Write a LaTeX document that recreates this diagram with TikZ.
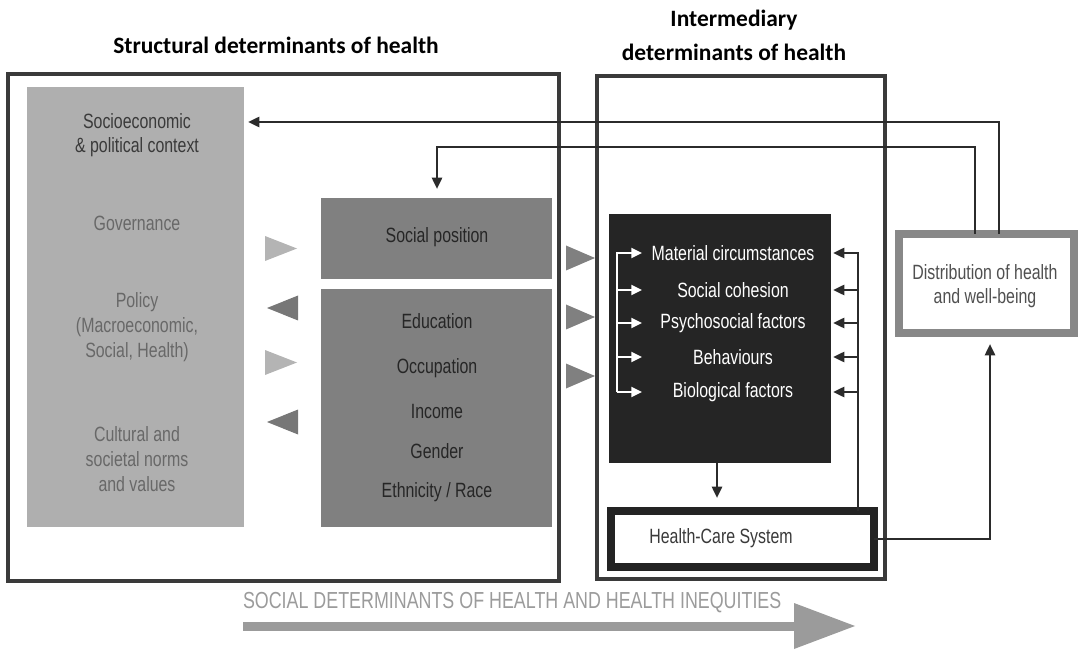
\documentclass[tikz,border=0pt]{standalone}
\usepackage{fontspec}
\setmainfont{Liberation Sans}
\newfontfamily\condfont[FakeStretch=0.77]{Liberation Sans}
\newfontfamily\headfont{Carlito}
\usetikzlibrary{arrows.meta,fit}

\definecolor{framegray}{HTML}{3A3A3A}
\definecolor{ctxgray}{HTML}{AFAFAF}
\definecolor{posgray}{HTML}{808080}
\definecolor{darkbox}{HTML}{252525}
\definecolor{linegray}{HTML}{2B2B2B}
\definecolor{hcsborder}{HTML}{232323}
\definecolor{distborder}{HTML}{888888}
\definecolor{lighttri}{HTML}{B4B4B4}
\definecolor{darktri}{HTML}{777777}
\definecolor{midtri}{HTML}{808080}
\definecolor{bandgray}{HTML}{9B9B9B}
\definecolor{txtdark}{HTML}{262626}
\definecolor{txtmid}{HTML}{3A3A3A}
\definecolor{txtsoft}{HTML}{686868}
\definecolor{txtdist}{HTML}{505050}

\begin{document}
\begin{tikzpicture}[x=0.75pt,y=-0.75pt,
  every node/.style={inner sep=0pt,outer sep=0pt},
  frame/.style={draw=framegray,line width=3pt},
  head/.style={font=\headfont\bfseries\fontsize{17.6pt}{25.5pt}\selectfont,align=center,text=black},
  txt/.style={font=\condfont\fontsize{15.5pt}{18.5pt}\selectfont,align=center},
  item/.style={txt,text=white},
  conn/.style={draw=linegray,line width=1.9pt},
  wconn/.style={draw=white,line width=1.5pt},
  tip/.style={-{Triangle[length=8.5pt,width=7.5pt]}},
  wtip/.style={-{Triangle[length=8pt,width=7.5pt]}}]
\useasboundingbox (0,0) rectangle (1078,652);

% the two determinant frames
\node[frame,fit={(8,74)(559,581)}] (structural) {};
\node[frame,fit={(597,76)(885,579)}] (intermediary) {};

% headings
\node[head] (headS) at (276,45) {Structural determinants of health};
\node[head] (headI) at (734,35) {Intermediary\\determinants of health};

% context column
\node[fill=ctxgray,fit={(27,87)(244,527)}] (ctx) {};
\node[txt,text=txtmid] (ctxA) at (137,135) {Socioeconomic\\\& political context};
\node[txt,text=txtsoft] (ctxB) at (137,223) {Governance};
\node[txt,text=txtsoft] (ctxC) at (137,327) {Policy\\(Macroeconomic,\\Social, Health)};
\node[txt,text=txtsoft] (ctxD) at (137,459) {Cultural and\\societal norms\\and values};

% socioeconomic position
\node[fill=posgray,fit={(321,198)(552,279)}] (socpos) {};
\node[txt,text=txtdark] (socposT) at (437,237) {Social position};
\node[fill=posgray,fit={(321,289)(552,527)}] (strat) {};
\node[txt,text=txtdark] (s1) at (437,321) {Education};
\node[txt,text=txtdark] (s2) at (437,368) {Occupation};
\node[txt,text=txtdark] (s3) at (437,411) {Income};
\node[txt,text=txtdark] (s4) at (437,451) {Gender};
\node[txt,text=txtdark] (s5) at (437,492) {Ethnicity / Race};

% intermediary factors
\node[fill=darkbox,fit={(609,214)(831,463)}] (inter) {};
\node[item] (m1) at (733,253) {Material circumstances};
\node[item] (m2) at (733,290) {Social cohesion};
\node[item] (m3) at (733,323) {Psychosocial factors};
\node[item] (m4) at (733,357) {Behaviours};
\node[item] (m5) at (733,392) {Biological factors};

\node[draw=hcsborder,line width=6pt,fill=white,fit={(611,511)(874,567)}] (hcs) {};
\node[txt,text=txtmid] (hcsT) at (721,538) {Health-Care System};

\node[draw=distborder,line width=6pt,fill=white,fit={(899,234)(1074,333)}] (dist) {};
\node[txt,text=txtdist] (distT) at (985,286) {Distribution of health\\and well-being};

% flow triangles
\fill[lighttri] (265,236) -- (265,261) -- (297,248.5) -- cycle;
\fill[lighttri] (265,350) -- (265,375) -- (297,362.5) -- cycle;
\fill[darktri] (298,295.5) -- (298,320.5) -- (267,308) -- cycle;
\fill[darktri] (298,409.5) -- (298,434.5) -- (267,422) -- cycle;
\fill[midtri] (566,245.5) -- (566,270.5) -- (595,258) -- cycle;
\fill[midtri] (566,304.5) -- (566,329.5) -- (595,317) -- cycle;
\fill[midtri] (566,363.5) -- (566,388.5) -- (595,376) -- cycle;

% feedback connectors
\coordinate (fbA) at (999,122);
\coordinate (fbB) at (975,147);
\coordinate (fbBturn) at (437,147);
\draw[conn,tip,shorten >=3pt] (dist.north -| fbA) |- (ctx.east |- fbA);
\draw[conn,tip,shorten >=6.75pt] (dist.north -| fbB) |- (fbBturn) -- (socpos.north -| fbBturn);

% white distribution arrows inside the dark box
\coordinate (lx) at (617,0);
\coordinate (ltip) at (642,0);
\draw[wconn,wtip] (lx |- m5) -- (lx |- m1) -- (ltip |- m1);
\draw[wconn,wtip] (lx |- m2) -- (ltip |- m2);
\draw[wconn,wtip] (lx |- m3) -- (ltip |- m3);
\draw[wconn,wtip] (lx |- m4) -- (ltip |- m4);
\draw[wconn,wtip] (lx |- m5) -- (ltip |- m5);

% health-care system feeding back to the factors
\coordinate (rx) at (858,0);
\coordinate (rtip) at (833,0);
\draw[conn,tip] (hcs.north -| rx) -- (rx |- m1) -- (rtip |- m1);
\draw[conn,tip] (rx |- m2) -- (rtip |- m2);
\draw[conn,tip] (rx |- m3) -- (rtip |- m3);
\draw[conn,tip] (rx |- m4) -- (rtip |- m4);
\draw[conn,tip] (rx |- m5) -- (rtip |- m5);

\coordinate (drop) at (717,0);
\draw[conn,tip,shorten >=9.75pt] (inter.south -| drop) -- (hcs.north -| drop);

\coordinate (ux) at (990,0);
\draw[conn,tip,shorten >=8.25pt] (hcs.east) -| (dist.south -| ux);

% bottom band
\node[font=\condfont\fontsize{17.4pt}{20pt}\selectfont,text=bandgray,anchor=west] (band) at (243,603) {SOCIAL DETERMINANTS OF HEALTH AND HEALTH INEQUITIES};
\fill[bandgray] (243,621.5) rectangle (794,630.5);
\fill[bandgray] (794,603) -- (855,626) -- (794,649) -- cycle;
\end{tikzpicture}
\end{document}
